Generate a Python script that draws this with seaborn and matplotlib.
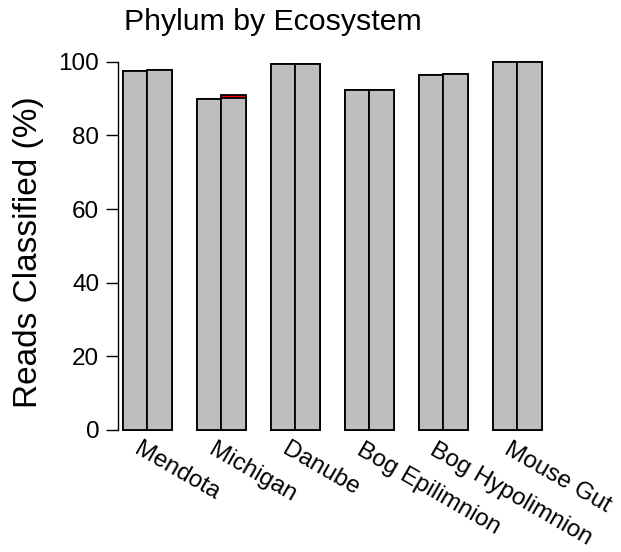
import matplotlib
matplotlib.use("Agg")
import matplotlib.pyplot as plt
import seaborn as sns
import pandas as pd

ecosystems = ["Mendota", "Michigan", "Danube", "Bog Epilimnion", "Bog Hypolimnion", "Mouse Gut"]
series_a = [97.6, 89.9, 99.3, 92.3, 96.5, 99.9]
series_b = [97.7, 90.1, 99.3, 92.2, 96.7, 99.9]
series_b_extra = [0.0, 0.9, 0.0, 0.0, 0.0, 0.0]
series_names = ["A", "B"]

sns.set_style("white")
plt.rcParams['font.family'] = ['Liberation Sans', 'DejaVu Sans']
plt.rcParams['text.color'] = 'black'
plt.rcParams['axes.labelcolor'] = 'black'
plt.rcParams['ytick.color'] = 'black'

df = pd.DataFrame({
    "eco": ecosystems * 2,
    "series": [series_names[0]] * 6 + [series_names[1]] * 6,
    "gray": series_a + series_b,
    "total": series_a + [b + e for b, e in zip(series_b, series_b_extra)],
})

fig = plt.figure(figsize=(6.21, 5.52), dpi=100)
ax = fig.add_axes([118/621, 1 - 430/552, 429/621, (430 - 61.7)/552])

common = dict(data=df, x="eco", hue="series", order=ecosystems, hue_order=series_names,
              width=0.66, gap=0, dodge=True, legend=False, ax=ax,
              edgecolor="black", linewidth=1.3, saturation=1)
sns.barplot(y="total", palette=["#FF0000", "#FF0000"], **common)
sns.barplot(y="gray", palette=["#BEBEBE", "#BEBEBE"], **common)
for p in ax.patches:
    p.set_clip_on(False)

ax.set_xlim(-0.398, 5.4)
ax.set_ylim(0, 100)
for s in ["top", "right", "bottom"]:
    ax.spines[s].set_visible(False)
ax.spines["left"].set_color("black")
ax.spines["left"].set_linewidth(1.0)
ax.spines["left"].set_bounds(0, 100)
ax.set_yticks([0, 20, 40, 60, 80, 100])
ax.tick_params(axis="y", direction="out", length=8.5, width=1, colors="black",
               labelcolor="black", labelsize=17.5, left=True, pad=5)
ax.set_xticks([])
ax.set_xlabel("")
ax.set_ylabel("")

for i, name in enumerate(ecosystems):
    ax.text(i - 0.08, -2.3, name, rotation=-30, rotation_mode="anchor",
            ha="left", va="top", fontsize=17.5, color="black", clip_on=False)

fig.text(124/621, 1 - 29.5/552, "Phylum by Ecosystem", fontsize=21.8, ha="left",
         va="baseline", color="black")
fig.text(29/621, 1 - 252/552, "Reads Classified (%)", fontsize=24, rotation=90,
         ha="center", va="center", color="black")

fig.savefig("out.png", dpi=100)
